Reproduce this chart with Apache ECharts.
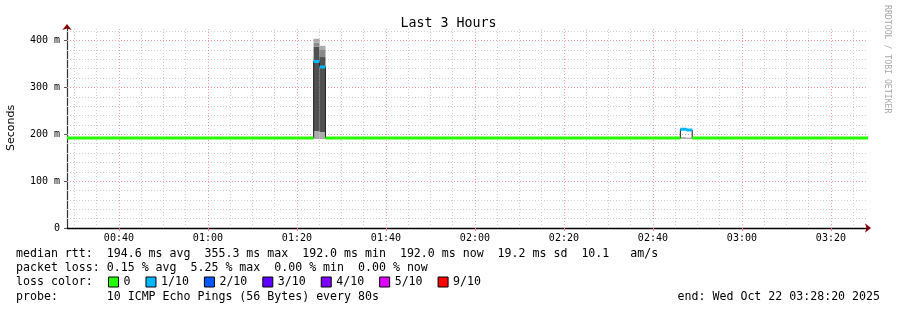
<!DOCTYPE html>
<html><head><meta charset="utf-8">
<script src="https://cdn.jsdelivr.net/npm/echarts@6/dist/echarts.min.js"></script>
<style>html,body{margin:0;padding:0;background:#fff}#c{width:897px;height:310px}</style>
</head><body><div id="c"></div>
<script>
// ---- data ----
const startTime = '00:28:20';
const endTime = '03:28:20';
const xMajorTicks = ['00:40','01:00','01:20','01:40','02:00','02:20','02:40','03:00','03:20'];
const yTicks = [0, 100, 200, 300, 400];
const yMax = 427;
const lossNames = ['0','1/10','2/10','3/10','4/10','5/10','9/10'];
// median rtt (ms) as runs: each value holds from its start time until the next one
const runStarts  = ['00:28:20','01:23:45','01:25:05','01:26:25','02:46:10','02:47:30','02:48:50'];
const runMedians = [192.0, 355.3, 344.0, 192.0, 211.0, 209.0, 192.0];
const runLoss    = [0, 1, 1, 0, 1, 1, 0]; // index into lossNames
// smoke (ping spread) per sample: band edges (ms) and band rank (0 outer .. 2 inner)
const smokeStarts = ['01:23:45','01:25:05','02:46:10','02:47:30'];
const smokeEnds   = ['01:25:05','01:26:25','02:47:30','02:48:50'];
const smokeEdges  = [[190, 207, 387, 396, 404], [190, 205, 365, 380, 389], [190, 194], [190, 193]];
const smokeRanks  = [[0, 2, 1, 0], [0, 2, 1, 0], [0], [0]];
const statLines = [
  'median rtt:  194.6 ms avg  355.3 ms max  192.0 ms min  192.0 ms now  19.2 ms sd  10.1   am/s',
  'packet loss: 0.15 % avg  5.25 % max  0.00 % min  0.00 % now',
  'loss color:',
  'probe:       10 ICMP Echo Pings (56 Bytes) every 80s'
];
const endText = 'end: Wed Oct 22 03:28:20 2025';
const titleText = 'Last 3 Hours';
const yName = 'Seconds';
const watermark = 'RRDTOOL / TOBI OETIKER';

// ---- styling ----
const lossColors = ['#26ff00','#00b8ff','#0059ff','#5e00ff','#7e00ff','#dd00ff','#ff0000'];
const smokeShades = ['#ababab', '#8a8a8a', '#505050'];
const MONO = 'DejaVu Sans Mono';

function toSec(s) { const p = s.split(':').map(Number); return p[0]*3600 + p[1]*60 + p[2]; }
function fmt(v) { const h = Math.floor(v/3600), m = Math.round((v%3600)/60); return String(h).padStart(2,'0') + ':' + String(m).padStart(2,'0'); }

const t0 = toSec(startTime), t1 = toSec(endTime);
const majorX = xMajorTicks.map(s => toSec(s + ':00'));

// grid lines (minor every 5 min / 20 ms, major at labels / 100 ms)
const gridLines = [];
for (let t = Math.ceil(t0/300)*300; t <= t1; t += 300) {
  if (!majorX.includes(t)) gridLines.push({xAxis: t, lineStyle: {color: '#cfcfcf'}});
}
for (let v = 20; v < yMax; v += 20) {
  if (v % 100 !== 0) gridLines.push({yAxis: v, lineStyle: {color: '#cfcfcf'}});
}
majorX.forEach(t => gridLines.push({xAxis: t, lineStyle: {color: '#f0a0a0'}}));
yTicks.filter(v => v > 0).forEach(v => gridLines.push({yAxis: v, lineStyle: {color: '#f0a0a0'}}));

// median step line
const runTimes = runStarts.map(s => toSec(s));
const medianData = runTimes.map((t, i) => [t, runMedians[i]]);
medianData.push([t1, runMedians[runMedians.length-1]]);

// loss-coloured segments
const lossSeries = lossNames.map((name, li) => {
  const data = [];
  runTimes.forEach((t, i) => {
    if (runLoss[i] !== li) return;
    const tEnd = i + 1 < runTimes.length ? runTimes[i+1] : t1;
    data.push([t, runMedians[i]], [tEnd, runMedians[i]], [tEnd, '-']);
  });
  return {
    name, type: 'line', data, showSymbol: false, symbol: 'none', z: 5,
    color: lossColors[li], lineStyle: {width: 3, color: lossColors[li]},
    connectNulls: false, animation: false, silent: true
  };
});

// smoke rectangles
const smokeData = [];
smokeStarts.forEach((s, i) => {
  const e = smokeEdges[i];
  for (let b = 0; b < e.length - 1; b++) {
    smokeData.push([toSec(s), toSec(smokeEnds[i]), e[b], e[b+1], smokeRanks[i][b]]);
  }
});

const chart = echarts.init(document.getElementById('c'), null, {renderer: 'canvas'});
chart.setOption({
  animation: false,
  backgroundColor: '#fff',
  title: {
    text: titleText, left: 'center', top: 11,
    textStyle: {fontFamily: MONO, fontSize: 13.3, fontWeight: 'normal', color: '#000', lineHeight: 16}
  },
  grid: {left: 67, right: 29, top: 28, bottom: 82, containLabel: false, outerBoundsMode: 'none'},
  legend: {
    data: lossNames, left: 108, top: 275, icon: 'rect', itemWidth: 10, itemHeight: 10, itemGap: 15,
    selectedMode: false, padding: 0,
    itemStyle: {borderColor: '#000', borderWidth: 1},
    textStyle: {fontFamily: MONO, fontSize: 11.6, color: '#000', lineHeight: 14, padding: [0,0,0,0]}
  },
  xAxis: [{
    type: 'value', min: t0, max: t1,
    axisLine: {show: true, lineStyle: {color: '#000', width: 1.4}},
    axisTick: {show: true, length: 3, customValues: majorX, lineStyle: {color: '#e08080'}},
    axisLabel: {customValues: majorX, formatter: v => fmt(v), margin: 5,
      fontFamily: MONO, fontSize: 10, color: '#000'},
    splitLine: {show: false}
  }, {
    type: 'value', min: t0, max: t1, position: 'bottom', offset: 0,
    axisLine: {show: true, symbol: ['none', 'arrow'], symbolSize: [7, 6], symbolOffset: [0, 3],
      lineStyle: {color: '#7f0000', width: 0}},
    axisTick: {show: false}, axisLabel: {show: false}, splitLine: {show: false}
  }],
  yAxis: [{
    type: 'value', min: 0, max: yMax, interval: 100,
    name: yName, nameLocation: 'middle', nameGap: 50, nameRotate: 90,
    nameTextStyle: {fontFamily: 'DejaVu Sans', fontSize: 11, color: '#000'},
    axisLine: {show: true, lineStyle: {color: '#333', width: 1.2}},
    axisTick: {show: true, length: 3, customValues: yTicks, lineStyle: {color: '#555'}},
    axisLabel: {customValues: yTicks, formatter: v => v === 0 ? '0' : v + ' m', margin: 7,
      fontFamily: MONO, fontSize: 10, color: '#000'},
    splitLine: {show: false}
  }, {
    type: 'value', min: 0, max: yMax, position: 'left', offset: 0,
    axisLine: {show: true, symbol: ['none', 'arrow'], symbolSize: [7, 6], symbolOffset: [0, 4],
      lineStyle: {color: '#7f0000', width: 0}},
    axisTick: {show: false}, axisLabel: {show: false}, splitLine: {show: false}
  }],
  series: [
    {
      name: 'grid', type: 'line', data: [], z: 1, silent: true,
      markLine: {z: 1, silent: true, symbol: ['none','none'], label: {show: false}, animation: false,
        lineStyle: {type: [1, 2], width: 1}, data: gridLines}
    },
    {
      name: 'smoke', type: 'custom', z: 2, silent: true, data: smokeData,
      encode: {x: [0, 1], y: [2, 3]},
      renderItem: (params, api) => {
        const a = api.coord([api.value(0), api.value(3)]);
        const b = api.coord([api.value(1), api.value(2)]);
        return {type: 'rect', shape: {x: a[0], y: a[1], width: b[0] - a[0], height: b[1] - a[1]},
          style: {fill: smokeShades[api.value(4)]}};
      }
    },
    {
      name: 'median', type: 'line', step: 'end', data: medianData, z: 3, silent: true,
      showSymbol: false, symbol: 'none', lineStyle: {width: 1, color: '#202020'}
    },
    ...lossSeries
  ],
  graphic: [
    ...statLines.map((t, i) => ({
      type: 'text', x: 16, y: [254, 268, 282, 297][i],
      style: {text: t, font: '11.6px "' + MONO + '"', fill: '#000', align: 'left', verticalAlign: 'middle'}
    })),
    {type: 'text', x: 880, y: 297,
      style: {text: endText, font: '11.6px "' + MONO + '"', fill: '#000', align: 'right', verticalAlign: 'middle'}},
    {type: 'text', x: 887, y: 5, rotation: -Math.PI / 2,
      style: {text: watermark, font: '8.2px "' + MONO + '"', fill: '#a8a8a8', align: 'left', verticalAlign: 'middle'}}
  ]
});
</script>
</body></html>
